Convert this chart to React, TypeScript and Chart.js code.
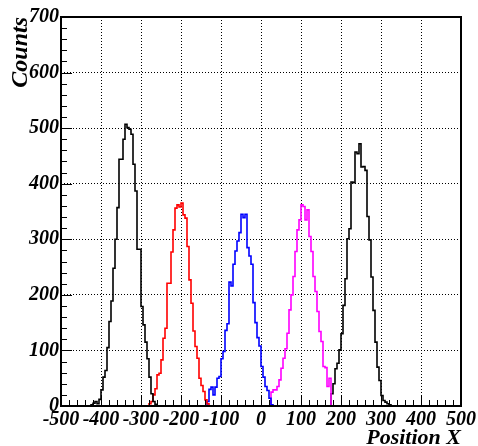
import React, { useEffect, useRef } from "react";
import { Chart, registerables } from "chart.js";

Chart.register(...registerables);

// ---- data (histogram bin counts, bin width 5, listed from first bin low edge) ----
const BIN_WIDTH = 5;
const black1Start = -430;
const black1Counts = [0, 2, 5, 8, 4, 12, 29, 52, 64, 105, 152, 189, 248, 300, 357, 444, 444, 480, 507, 501, 498, 489, 435, 387, 282, 282, 179, 146, 115, 85, 52, 22, 8, 3, 0];
const redStart = -285;
const redCounts = [0, 4, 8, 20, 31, 56, 59, 83, 122, 140, 221, 221, 277, 317, 356, 362, 358, 365, 344, 338, 287, 227, 185, 135, 107, 86, 50, 37, 26, 11, 4, 0];
const blueStart = -140;
const blueCounts = [0, 8, 30, 34, 20, 34, 50, 53, 85, 98, 136, 148, 223, 216, 255, 279, 297, 312, 345, 339, 345, 285, 270, 255, 186, 150, 123, 108, 71, 52, 35, 28, 14, 2, 0];
const magentaStart = 20;
const magentaCounts = [0, 25, 29, 29, 35, 47, 68, 86, 103, 131, 173, 200, 233, 278, 317, 335, 362, 359, 335, 353, 305, 278, 233, 206, 170, 134, 116, 71, 69, 35, 50, 0];
const black2Start = 170;
const black2Counts = [0, 22, 40, 67, 77, 101, 130, 181, 229, 301, 319, 403, 402, 457, 454, 472, 430, 431, 424, 341, 299, 232, 172, 115, 70, 46, 19, 10, 7, 4, 2, 0];

const X_MIN = -500;
const X_MAX = 500;
const X_STEP = 100;
const Y_MIN = 0;
const Y_MAX = 700;
const Y_STEP = 100;
const MINOR_DIV = 5;

const X_TITLE = "Position X";
const Y_TITLE = "Counts";

const toPoints = (start: number, counts: number[]) =>
  counts.map((c, i) => ({ x: start + i * BIN_WIDTH, y: c }));

const serif = '"Liberation Serif", "Times New Roman", serif';

const rootTicks = {
  id: "rootTicks",
  afterDatasetsDraw(chart: any) {
    const { ctx, chartArea, scales } = chart;
    const { left, right, top, bottom } = chartArea;
    const xs = scales.x;
    const ys = scales.y;
    ctx.save();
    ctx.strokeStyle = "#000";
    ctx.lineWidth = 1;
    ctx.beginPath();
    const xMinor = X_STEP / MINOR_DIV;
    for (let v = X_MIN; v <= X_MAX + 1e-6; v += xMinor) {
      const px = Math.round(xs.getPixelForValue(v)) + 0.5;
      const major = Math.abs(v % X_STEP) < 1e-6;
      const len = major ? 11 : 6;
      ctx.moveTo(px, bottom);
      ctx.lineTo(px, bottom - len);
    }
    const yMinor = Y_STEP / MINOR_DIV;
    for (let v = Y_MIN; v <= Y_MAX + 1e-6; v += yMinor) {
      const py = Math.round(ys.getPixelForValue(v)) + 0.5;
      const major = Math.abs(v % Y_STEP) < 1e-6;
      const len = major ? 11 : 6;
      ctx.moveTo(left, py);
      ctx.lineTo(left + len, py);
    }
    ctx.stroke();
    ctx.lineWidth = 2;
    ctx.strokeRect(left, top, right - left, bottom - top);
    ctx.restore();
  },
};

export default function App() {
  const ref = useRef<HTMLCanvasElement | null>(null);

  useEffect(() => {
    if (!ref.current) return;
    const ds = (label: string, start: number, counts: number[], color: string) => ({
      label,
      data: toPoints(start, counts),
      borderColor: color,
      backgroundColor: color,
      borderWidth: 1.6,
      pointRadius: 0,
      fill: false,
      stepped: "before" as const,
      tension: 0,
    });
    const tickFont = { family: serif, size: 20, style: "italic" as const, weight: "bold" as const };
    const chart = new Chart(ref.current, {
      type: "line",
      data: {
        datasets: [
          ds("h1", black1Start, black1Counts, "#000000"),
          ds("h2", redStart, redCounts, "#ff0000"),
          ds("h3", blueStart, blueCounts, "#0000ff"),
          ds("h4", magentaStart, magentaCounts, "#ff00ff"),
          ds("h5", black2Start, black2Counts, "#000000"),
        ],
      },
      options: {
        animation: false,
        responsive: false,
        devicePixelRatio: 1,
        layout: { padding: { left: 0, right: 15, top: 17, bottom: 0 } },
        plugins: { legend: { display: false }, tooltip: { enabled: false } },
        scales: {
          x: {
            type: "linear",
            min: X_MIN,
            max: X_MAX,
            ticks: { stepSize: X_STEP, autoSkip: false, maxRotation: 0, padding: 2, color: "#000", font: tickFont },
            grid: { drawTicks: false, color: "#000", lineWidth: 1 },
            border: { display: false, dash: [1, 2] },
            title: {
              display: true,
              text: X_TITLE,
              align: "end",
              color: "#000",
              font: { family: serif, size: 22, style: "italic", weight: "bold", lineHeight: 1 },
              padding: { top: 0, bottom: -3 },
            },
            afterFit: (s: any) => {
              s.height = 40;
            },
          },
          y: {
            type: "linear",
            min: Y_MIN,
            max: Y_MAX,
            ticks: { stepSize: Y_STEP, padding: 2, color: "#000", font: tickFont },
            grid: { drawTicks: false, color: "#000", lineWidth: 1 },
            border: { display: false, dash: [1, 2] },
            title: {
              display: true,
              text: Y_TITLE,
              align: "end",
              color: "#000",
              font: { family: serif, size: 24, style: "italic", weight: "bold", lineHeight: 1 },
              padding: { top: 9, bottom: 0 },
            },
            afterFit: (s: any) => {
              s.width = 61;
            },
          },
        },
      },
      plugins: [rootTicks],
    });
    return () => chart.destroy();
  }, []);

  return (
    <div style={{ position: "fixed", left: 0, top: 0, width: 478, height: 446, background: "#fff" }}>
      <canvas ref={ref} width={478} height={446} style={{ display: "block", width: 478, height: 446 }} />
    </div>
  );
}
